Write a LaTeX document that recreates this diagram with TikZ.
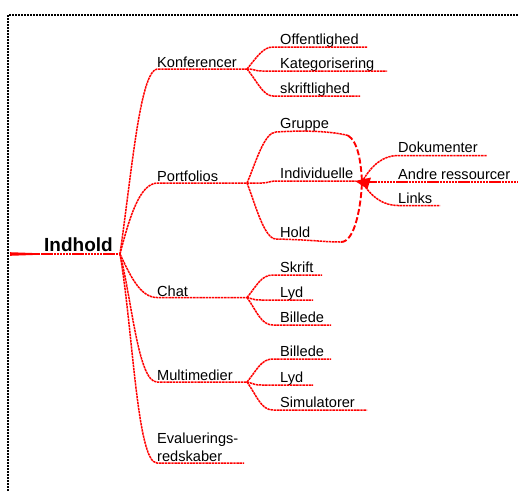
\documentclass[tikz,border=0pt]{standalone}
\usepackage{fontspec}
\setmainfont{Liberation Sans}
\begin{document}
\begin{tikzpicture}[x=1pt,y=-1pt,
  br/.style={draw=red, line width=1.5pt, dash pattern=on 2.4pt off 0.7pt},
  loopline/.style={draw=red, line width=1.9pt, dash pattern=on 6pt off 2.5pt},
  frame/.style={draw=black, line width=1.5pt, dash pattern=on 2pt off 1pt},
  lbl/.style={anchor=base west, inner sep=0pt, font=\fontsize{14.6}{16}\selectfont},
  rootlbl/.style={anchor=base west, inner sep=0pt, font=\fontsize{19}{22}\selectfont\bfseries}]
\useasboundingbox (0,0) rectangle (518,491);

% page frame (top and left edges only)
\draw[frame] (8,491) -- (8,15) -- (518,15);

% ---------- root ----------
\coordinate (R) at (120,254);
\coordinate (tail) at (10,254);
\coordinate (taper) at (38,254);
\node[rootlbl] (indhold) at (44,251) {Indhold};
\fill[red] (tail) ++(0,-1.8) -- (38,253.2) -- (38,254.8) -- (10,255.8) -- cycle;
\draw[br] (taper) -- (R);

% ---------- main branches ----------
\coordinate (K0) at (157,69);    \coordinate (K) at (247,69);
\coordinate (P0) at (157,183);   \coordinate (P) at (247,183);
\coordinate (C0) at (157,297.5); \coordinate (C) at (247,297.5);
\coordinate (M0) at (157,382);   \coordinate (M) at (247,382);
\coordinate (E0) at (157,463);   \coordinate (E) at (244,463);

\node[lbl] (konf) at (157,67.5) {Konferencer};
\node[lbl] (port) at (157,181.5) {Portfolios};
\node[lbl] (chat) at (157,296) {Chat};
\node[lbl] (multi) at (157,380.5) {Multimedier};
\node[lbl] (eval1) at (157,443) {Evaluerings-};
\node[lbl] (eval2) at (157,461.5) {redskaber};

\draw[br] (R) .. controls +(12,-84) and +(-17,3) .. (K0) -- (K);
\draw[br] (R) .. controls +(10,-39) and +(-17,1) .. (P0) -- (P);
\draw[br] (R) .. controls +(10,21) and +(-17,0) .. (C0) -- (C);
\draw[br] (R) .. controls +(12,46) and +(-19,0) .. (M0) -- (M);
\draw[br] (R) .. controls +(13,76) and +(-20,0) .. (E0) -- (E);

% ---------- Konferencer ----------
\node[lbl] (offl) at (280,44.5) {Offentlighed};
\node[lbl] (kat)  at (280,68.5) {Kategorisering};
\node[lbl] (skr)  at (280,93.5) {skriftlighed};
\coordinate (offl0) at (273,47); \coordinate (offl1) at (367,47);
\coordinate (kat0)  at (262,71); \coordinate (kat1)  at (387,71);
\coordinate (skr0)  at (273,96); \coordinate (skr1)  at (360,96);
\draw[br] (K) .. controls +(10,-12) and +(-10,0) .. (offl0) -- (offl1);
\draw[br] (K) .. controls +(8,0) and +(-8,0) .. (kat0) -- (kat1);
\draw[br] (K) .. controls +(10,12) and +(-10,0) .. (skr0) -- (skr1);

% ---------- Portfolios ----------
\node[lbl] (grp)  at (280,128) {Gruppe};
\node[lbl] (ind)  at (280,178) {Individuelle};
\node[lbl] (hold) at (280,237) {Hold};
\coordinate (I) at (362,182);
\coordinate (ind0) at (276,181);
\coordinate (ind1) at (356,181);
\coordinate (grp0) at (276,132);
\coordinate (grp1) at (348,135.5);
\coordinate (hold0) at (276,239);
\coordinate (hold1) at (341,242);

\draw[br] (P) -- (262,183) .. controls (268,183) and (270,181) .. (ind0) -- (ind1);
\draw[br] (P) .. controls +(8,-18) and +(-12,0) .. (grp0)
  .. controls +(30,-2) and +(-15,-4) .. (grp1);
\draw[loopline] (grp1) .. controls +(10,6) and +(-1,-20) .. (I);
\draw[br] (P) .. controls +(8,20) and +(-12,0) .. (hold0)
  .. controls +(40,1) and +(-18,0) .. (hold1);
\draw[loopline] (hold1) .. controls +(14,0) and +(-1,24) .. (I);
\fill[red] (355,181) -- (371,177.5) -- (367.5,189) -- cycle;

% ---------- Individuelle ----------
\node[lbl] (dok)  at (398,152.5) {Dokumenter};
\node[lbl] (andr) at (398,179.5) {Andre ressourcer};
\node[lbl] (lnk)  at (398,203) {Links};
\coordinate (dok0) at (398,155.5); \coordinate (dok1) at (487,155.5);
\coordinate (andr1) at (518,182);
\coordinate (lnk0) at (398,205.5); \coordinate (lnk1) at (440,205.5);
\draw[br] (I) .. controls +(10,-18) and +(-14,0) .. (dok0) -- (dok1);
\draw[br] (I) -- (andr1);
\draw[br] (I) .. controls +(10,16) and +(-14,0) .. (lnk0) -- (lnk1);

% ---------- Chat ----------
\node[lbl] (skrift) at (280,272.5) {Skrift};
\node[lbl] (lyd1)   at (280,297.5) {Lyd};
\node[lbl] (bil1)   at (280,322.5) {Billede};
\coordinate (skrift0) at (273,275); \coordinate (skrift1) at (322,275);
\coordinate (lyd10) at (262,300);   \coordinate (lyd11) at (313,300);
\coordinate (bil10) at (273,325);   \coordinate (bil11) at (331,325);
\draw[br] (C) .. controls +(10,-12) and +(-12,0) .. (skrift0) -- (skrift1);
\draw[br] (C) .. controls +(8,2) and +(-8,0) .. (lyd10) -- (lyd11);
\draw[br] (C) .. controls +(10,14) and +(-12,0) .. (bil10) -- (bil11);

% ---------- Multimedier ----------
\node[lbl] (bil2) at (280,356.5) {Billede};
\node[lbl] (lyd2) at (280,382.5) {Lyd};
\node[lbl] (sim)  at (280,407.5) {Simulatorer};
\coordinate (bil20) at (273,359); \coordinate (bil21) at (331,359);
\coordinate (lyd20) at (262,385); \coordinate (lyd21) at (313,385);
\coordinate (sim0)  at (273,410); \coordinate (sim1)  at (367,410);
\draw[br] (M) .. controls +(10,-12) and +(-12,0) .. (bil20) -- (bil21);
\draw[br] (M) .. controls +(8,2) and +(-8,0) .. (lyd20) -- (lyd21);
\draw[br] (M) .. controls +(10,14) and +(-12,0) .. (sim0) -- (sim1);
\end{tikzpicture}
\end{document}
